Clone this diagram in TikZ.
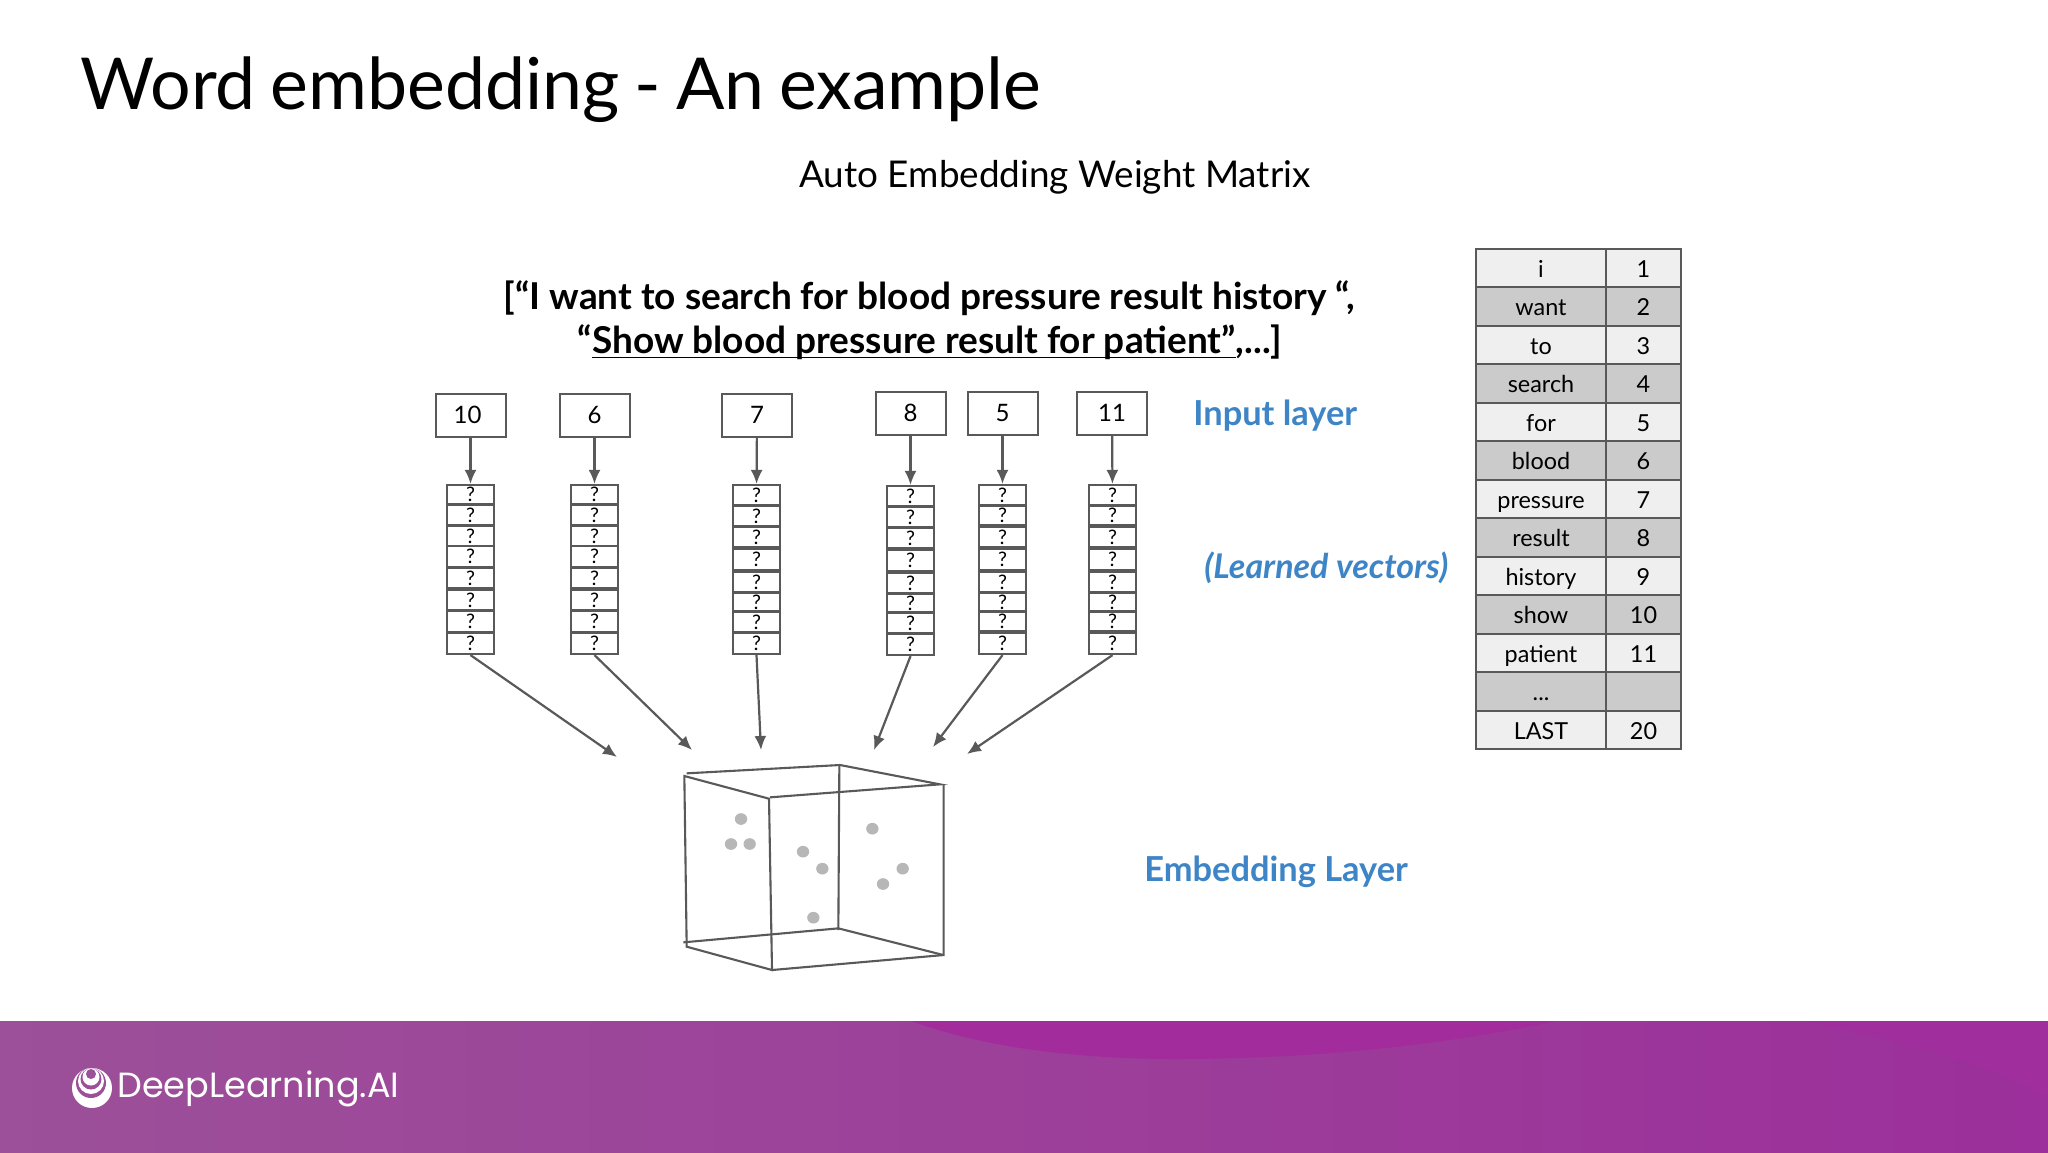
\documentclass[tikz,border=0pt]{standalone}
\usepackage{fontspec}
\setmainfont{Lato}
\newfontfamily\popfont{Poppins}
\usetikzlibrary{arrows.meta}
\definecolor{linegray}{HTML}{595959}
\definecolor{rowlight}{HTML}{EFEFEF}
\definecolor{rowdark}{HTML}{CBCBCB}
\definecolor{headblue}{HTML}{3D85C6}
\definecolor{dotgray}{HTML}{B7B7B7}
\definecolor{footleft}{HTML}{9C5099}
\definecolor{footright}{HTML}{9C2F9B}
\definecolor{footdark}{HTML}{A32C9D}
\definecolor{footdarkb}{HTML}{A02E9C}
\newcommand{\fsz}[1]{\fontsize{#1}{#1}\selectfont}
\newcommand{\threedots}{...}
\newcommand{\thickul}[1]{\setbox0=\hbox{#1}\rlap{\rule[-2.7pt]{\wd0}{0.9pt}}\box0}
\newcommand{\stackcol}[4]{% name, xleft, xright, list of top/bottom
  \foreach \t/\b [count=\i] in {#4}{
    \pgfmathsetmacro{\cy}{(\t+\b)/2}
    \pgfmathsetmacro{\ch}{(\b-\t)*0.5}
    \pgfmathsetmacro{\cw}{(#3-#2)*0.5}
    \pgfmathsetmacro{\cx}{(#2+#3)/2}
    \node[cellbox,minimum width=\cw pt,minimum height=\ch pt] (#1-\i) at (\cx,\cy) {?};
  }
}
\tikzset{
  inbox/.style={draw=linegray,line width=1pt,fill=white,minimum width=35pt,minimum height=21.5pt,inner sep=0pt,font=\fsz{12}},
  cellbox/.style={draw=linegray,line width=1.1pt,fill=white,inner sep=0pt,text height=7.2pt,text depth=0pt,font=\fsz{10}},
  flow/.style={draw=linegray,line width=1.1pt,-{Latex[length=7pt,width=6pt]}},
  cubeline/.style={draw=linegray,line width=1.05pt},
  dotmark/.style={fill=dotgray,draw=none},
  rowl/.style={draw=linegray,line width=1pt,fill=rowlight,inner sep=0pt,minimum height=19.25pt,text height=9.3pt,text depth=0pt,font=\fsz{11.7}},
  rowd/.style={rowl,fill=rowdark},
  head/.style={font=\fsz{17.2}\bfseries,text=headblue,inner sep=0pt},
  wordcol/.style={minimum width=65pt},
  idxcol/.style={minimum width=37.5pt}
}
\begin{document}
\begin{tikzpicture}[x=0.5pt,y=-0.5pt]
\useasboundingbox (0,0) rectangle (2048,1152);
\fill[white] (0,0) rectangle (2048,1152);
% footer
\shade[left color=footleft,right color=footright] (0,1021) rectangle (2048,1152);
\begin{scope}
\clip (0,1021) rectangle (2048,1152);
\fill[footdark] (911,1021) .. controls (990,1050) and (1090,1059) .. (1174,1059) .. controls (1300,1059) and (1430,1048) .. (1556,1021) -- cycle;
\fill[footdarkb] (1803,1021) .. controls (1900,1040) and (1990,1065) .. (2048,1097) -- (2048,1021) -- cycle;
\end{scope}
% logo
\fill[white] (92,1088) circle (20);
\fill[footleft] (91,1083) circle (15);
\fill[white] (91,1081) circle (13);
\fill[footleft] (91,1079) circle (10.5);
\fill[white] (91,1077) circle (8.5);
\fill[footleft] (91,1074) circle (5);
\node[anchor=west,inner sep=0pt,text=white,font=\popfont\fsz{17.5}] (brand) at (117,1089) {DeepLearning.AI};
% titles
\node[anchor=base west,inner sep=0pt,font=\fsz{35.8}] (title) at (80,109) {\spaceskip=7.4pt Word embedding - An example};
\node[anchor=base west,inner sep=0pt,font=\fsz{18.43}] (subtitle) at (799,187) {Auto Embedding Weight Matrix};
\node[anchor=base,inner sep=0pt,font=\fsz{18.5}\bfseries] (sent1) at (929,309) {[“I want to search for blood pressure result history “,};
\node[anchor=base,inner sep=0pt,font=\fsz{18.5}\bfseries] (sent2) at (930,353) {“\thickul{Show blood pressure result for patient”},...]};
% heads
\node[head,anchor=base west] (hinput) at (1193,425) {Input layer};
\node[head,anchor=base west,font=\fsz{17}\bfseries\itshape] (hlearn) at (1204,578) {(Learned vectors)};
\node[head,anchor=base west] (hembed) at (1144,881) {Embedding Layer};
% input boxes
\node[inbox] (in1) at (470.5,415) {\kern-3pt 10};
\node[inbox] (in2) at (594.5,415) {6};
\node[inbox] (in3) at (757,415) {7};
\node[inbox] (in4) at (910.5,413) {8};
\node[inbox] (in5) at (1002.5,413) {5};
\node[inbox] (in6) at (1112,413) {11};
% stacks
\stackcol{a}{447}{494}{485/504,505/525,526/546,546/567,568/588,590/610,611/632,633/654}
\stackcol{b}{571}{618}{485/504,505/525,526/546,546/567,568/588,590/610,611/632,633/654}
\stackcol{c}{733}{780}{485/505,506/526,527/547,549/570,572/592,593/611,612/632,633/654}
\stackcol{d}{887}{934}{486/506,507/527,528/548,550/571,573/593,594/612,613/633,634/655}
\stackcol{e}{979}{1026}{485/505,506/525,527/547,549/570,572/592,593/611,612/631,633/654}
\stackcol{f}{1089}{1136}{485/505,506/525,527/547,549/570,572/592,593/611,612/631,633/654}
% tips
\coordinate (t1) at (617,757);
\coordinate (t2) at (692,750);
\coordinate (t3) at (761,750);
\coordinate (t4) at (874,750);
\coordinate (t5) at (933,747);
\coordinate (t6) at (967,754);
\draw[flow] (in1) -- (a-1);
\draw[flow] (in2) -- (b-1);
\draw[flow] (in3) -- (c-1);
\draw[flow] (in4) -- (d-1);
\draw[flow] (in5) -- (e-1);
\draw[flow] (in6) -- (f-1);
\draw[flow] (a-8.south) -- (t1);
\draw[flow] (b-8.south) -- (t2);
\draw[flow] (c-8.south) -- (t3);
\draw[flow] (d-8.south) -- (t4);
\draw[flow] (e-8.south) -- (t5);
\draw[flow] (f-8.south) -- (t6);
% cube
\begin{scope}[shift={(640,740)},x=0.1666667pt,y=-0.1666667pt]
\draw[cubeline] (140,100) -- (600,75) -- (900,133) -- (390,172);
\draw[cubeline] (133,108) -- (387,176) -- (396,690) -- (140,620) -- cycle;
\draw[cubeline] (598,75) -- (595,570);
\draw[cubeline] (130,607) -- (595,565) -- (910,645);
\draw[cubeline] (396,690) -- (911,645) -- (911,135);
\foreach \dx/\dy in {303/237,273/312,329/312,489/335,547/386,520/533,697/266,788/386,729/432}
  \fill[dotmark] (\dx,\dy) ellipse (18.5 and 17.5);
\end{scope}
% table
\foreach \w/\n/\s [count=\r from 0] in {i/1/rowl,want/2/rowd,to/3/rowl,search/4/rowd,for/5/rowl,blood/6/rowd,pressure/7/rowl,result/8/rowd,history/9/rowl,show/10/rowd,patient/11/rowl,\threedots/{}/rowd,LAST/20/rowl}{
  \pgfmathsetmacro{\ry}{249+38.46*\r+19.23}
  \node[\s,wordcol] (w\r) at (1541,\ry) {\w};
  \node[\s,idxcol] (n\r) at (1643.5,\ry) {\n};
}
\end{tikzpicture}
\end{document}
